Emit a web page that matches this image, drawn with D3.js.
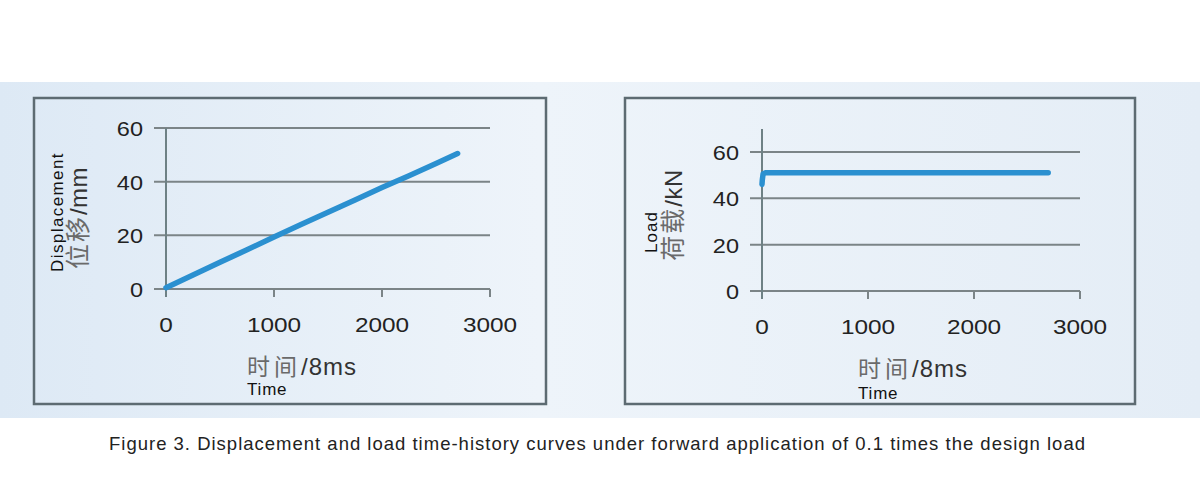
<!DOCTYPE html>
<html>
<head>
<meta charset="utf-8">
<script src="https://cdn.jsdelivr.net/npm/d3@7"></script>
<style>
  body { margin: 0; background: #fff; }
  svg { display: block; }
</style>
</head>
<body>
<svg width="1200" height="500"></svg>
<script>
let width = 1200, height = 500;

// displacement curve (time in 8 ms steps, mm)
var dispTime = [0, 250, 500, 750, 1000, 1250, 1500, 1750, 2000, 2250, 2500, 2700];
var dispValue = [0.5, 5.2, 10, 14.6, 19.4, 24, 28.6, 33.2, 37.8, 42.2, 46.8, 50.5];

// load curve (time in 8 ms steps, kN)
var loadTime = [0, 3, 10, 30, 500, 1000, 1500, 2000, 2500, 2700];
var loadValue = [46, 48, 50.5, 51, 51, 51, 51, 51, 51, 51];

var xTicks = [0, 1000, 2000, 3000];
var yTicks = [0, 20, 40, 60];

var caption = "Figure 3. Displacement and load time-history curves under forward application of 0.1 times the design load";

const sans = "Liberation Sans, Arial, sans-serif";

let svg = d3.select("svg")
    .attr("viewBox", "0 0 " + width + " " + height);

// soft blue background band
var defs = svg.append("defs");
var grad = defs.append("linearGradient").attr("id", "bg");
grad.append("stop").attr("offset", "0%").attr("stop-color", "#dde9f5");
grad.append("stop").attr("offset", "45%").attr("stop-color", "#eef4fa");
grad.append("stop").attr("offset", "100%").attr("stop-color", "#e4edf6");
svg.append("rect")
    .attr("x", 0).attr("y", 82).attr("width", width).attr("height", 336)
    .attr("fill", "url(#bg)");

function panel(opt) {
    let g = svg.append("g");

    g.append("rect")
        .attr("x", opt.box[0]).attr("y", opt.box[1])
        .attr("width", opt.box[2]).attr("height", opt.box[3])
        .attr("fill", "none")
        .attr("stroke", "#5d6b72")
        .attr("stroke-width", 2.5);

    let x = d3.scaleLinear().domain([0, 3000]).range(opt.xr);
    let y = d3.scaleLinear().domain([0, 60]).range(opt.yr);

    // gridlines
    g.selectAll(".grid")
        .data(yTicks)
        .enter()
        .append("line")
        .attr("x1", opt.xr[0] - 12).attr("x2", opt.xr[1])
        .attr("y1", d => y(d)).attr("y2", d => y(d))
        .attr("stroke", "#7b8487")
        .attr("stroke-width", 2);

    // y axis line
    g.append("line")
        .attr("x1", opt.xr[0]).attr("x2", opt.xr[0])
        .attr("y1", opt.yTop).attr("y2", y(0) + 8)
        .attr("stroke", "#6e8185")
        .attr("stroke-width", 2);

    // x ticks
    g.selectAll(".xt")
        .data(xTicks.slice(1))
        .enter()
        .append("line")
        .attr("x1", d => x(d)).attr("x2", d => x(d))
        .attr("y1", y(0)).attr("y2", y(0) + 8)
        .attr("stroke", "#7b8487")
        .attr("stroke-width", 2);

    // tick labels, a little wider than the plain font
    g.selectAll(".xl")
        .data(xTicks)
        .enter()
        .append("text")
        .attr("transform", d => "translate(" + x(d) + "," + (y(0) + 43) + ") scale(1.16,1)")
        .attr("text-anchor", "middle")
        .attr("font-family", sans)
        .attr("font-size", 21)
        .attr("fill", "#222")
        .text(d => d);

    g.selectAll(".yl")
        .data(yTicks)
        .enter()
        .append("text")
        .attr("transform", d => "translate(" + (opt.xr[0] - 23) + "," + (y(d) + 8) + ") scale(1.12,1)")
        .attr("text-anchor", "end")
        .attr("font-family", sans)
        .attr("font-size", 21)
        .attr("fill", "#222")
        .text(d => d);

    let line = d3.line()
        .x(d => x(d[0]))
        .y(d => y(d[1]));

    g.append("path")
        .datum(opt.data)
        .attr("d", line)
        .attr("fill", "none")
        .attr("stroke", "#2b90d0")
        .attr("stroke-width", 5.5)
        .attr("stroke-linecap", "round")
        .attr("stroke-linejoin", "round");

    // x axis title
    let xt = g.append("text")
        .attr("x", opt.xLab[0]).attr("y", opt.xLab[1]);
    xt.append("tspan")
        .attr("font-family", "Noto Sans CJK SC")
        .attr("font-size", 23)
        .attr("letter-spacing", 4)
        .attr("fill", "#6a6a6a")
        .text("时间");
    xt.append("tspan")
        .attr("font-family", sans)
        .attr("font-size", 24)
        .attr("letter-spacing", 1)
        .attr("fill", "#333")
        .text("/8ms");

    g.append("text")
        .attr("x", opt.xLab[0]).attr("y", opt.xLab[2])
        .attr("font-family", sans)
        .attr("font-size", 17)
        .attr("letter-spacing", 0.8)
        .attr("fill", "#111")
        .text("Time");

    // y axis titles (rotated)
    g.append("text")
        .attr("transform", "translate(" + opt.yLab[0] + "," + opt.yLab[2] + ") rotate(-90)")
        .attr("text-anchor", "middle")
        .attr("font-family", sans)
        .attr("font-size", 17)
        .attr("letter-spacing", opt.enSpacing)
        .attr("fill", "#111")
        .text(opt.yEn);

    let yt = g.append("text")
        .attr("transform", "translate(" + opt.yLab[1] + "," + opt.yLab[3] + ") rotate(-90)")
        .attr("text-anchor", "middle");
    yt.append("tspan")
        .attr("font-family", "Noto Sans CJK SC")
        .attr("font-size", 25)
        .attr("letter-spacing", 2)
        .attr("fill", "#6a6a6a")
        .text(opt.yCn);
    yt.append("tspan")
        .attr("font-family", sans)
        .attr("font-size", 24)
        .attr("letter-spacing", 0.5)
        .attr("fill", "#333")
        .text(opt.yUnit);
}

panel({
    box: [34, 98, 512, 306],
    xr: [166, 490],
    yr: [289, 128],
    yTop: 128,
    data: dispTime.map((t, i) => [t, dispValue[i]]),
    xLab: [247, 375, 395],
    yLab: [63, 87, 212, 218],
    enSpacing: 1.4,
    yEn: "Displacement",
    yCn: "位移",
    yUnit: "/mm"
});

panel({
    box: [625, 98, 510, 306],
    xr: [762, 1080],
    yr: [291, 152],
    yTop: 129,
    data: loadTime.map((t, i) => [t, loadValue[i]]),
    xLab: [858, 377, 399],
    yLab: [657, 682, 232, 215],
    enSpacing: 1,
    yEn: "Load",
    yCn: "荷载",
    yUnit: "/kN"
});

svg.append("text")
    .attr("x", 109).attr("y", 450)
    .attr("font-family", sans)
    .attr("font-size", 18.5)
    .attr("letter-spacing", 1.0)
    .attr("fill", "#222")
    .text(caption);
</script>
</body>
</html>
